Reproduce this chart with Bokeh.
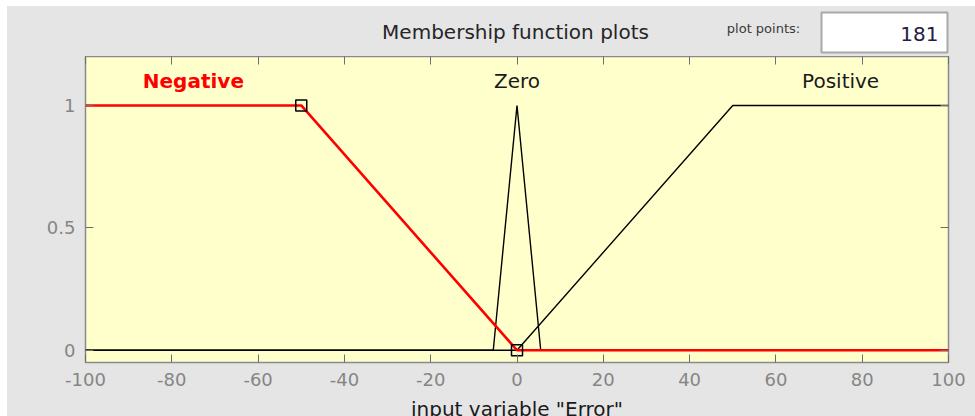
from bokeh.plotting import figure
from bokeh.models import Range1d, FixedTicker, LinearAxis, Spacer
from bokeh.layouts import column, row
from bokeh.core.properties import value
from bokeh.embed import file_html
from bokeh.resources import INLINE

# ---- data ----
mf_names = ["Negative", "Zero", "Positive"]
neg_x = [-100, -50, 0, 100]
neg_y = [1, 1, 0, 0]
zero_x = [-100, -5.5, 0, 5.5, 100]
zero_y = [0, 0, 1, 0, 0]
pos_x = [-100, 0, 50, 100]
pos_y = [0, 0, 1, 1]
handle_x = [-50, 0]
handle_y = [1, 0]
label_x = [-75, 0, 75]
label_y = [1.1, 1.1, 1.1]
x_ticks = [-100, -80, -60, -40, -20, 0, 20, 40, 60, 80, 100]
y_ticks = [0, 0.5, 1]
y_tick_labels = ["0", "0.5", "1"]
plot_points = "181"
title_text = "Membership function plots"
xlabel_text = 'input variable "Error"'

FONT = "DejaVu Sans"
GRAY_BG = "#e5e5e5"
TICK_LBL = "#858585"

# ---------- header strip (title, plot points box) ----------
hdr = figure(width=968, height=50, x_range=Range1d(0, 968), y_range=Range1d(50, 0),
             output_backend="svg", toolbar_location=None,
             x_axis_type=None, y_axis_type=None,
             min_border=0, min_border_left=0, min_border_right=0,
             min_border_top=0, min_border_bottom=0,
             background_fill_color=GRAY_BG, border_fill_color=GRAY_BG,
             outline_line_color=None)
hdr.grid.visible = False
hdr.text(x=[508], y=[25], text=[title_text], text_align="center", text_baseline="middle",
         text_font=value(FONT), text_font_size="20px", text_color="#262626")
hdr.text(x=[756], y=[22], text=["plot points:"], text_align="center", text_baseline="middle",
         text_font=value(FONT), text_font_size="13px", text_color="#3a3a3a")
hdr.quad(left=[814], right=[940], top=[6], bottom=[46], fill_color="white",
         line_color="#a8a8a8", line_width=2)
hdr.text(x=[931], y=[27], text=[plot_points], text_align="right", text_baseline="middle",
         text_font=value(FONT), text_font_size="20px", text_color="#202040")

# ---------- main membership-function plot ----------
p = figure(width=968, height=368,
           x_range=Range1d(-100, 100), y_range=Range1d(-0.05, 1.2),
           output_backend="svg", toolbar_location=None,
           min_border_left=78, min_border_right=27,
           min_border_top=0, min_border_bottom=62,
           background_fill_color="#ffffcc", border_fill_color=GRAY_BG,
           outline_line_color="#8a8a8a", outline_line_width=1.5)
p.grid.visible = False

p.add_layout(LinearAxis(), "above")
p.add_layout(LinearAxis(), "right")

def style(ax, ticks, labels, show_labels):
    ax.ticker = FixedTicker(ticks=ticks)
    ax.major_label_overrides = {t: l for t, l in zip(ticks, labels)}
    ax.axis_line_color = None
    ax.major_tick_in = 8
    ax.major_tick_out = 0
    ax.minor_tick_in = 0
    ax.minor_tick_out = 0
    ax.major_tick_line_color = "#6e6e6e"
    ax.major_tick_line_width = 1
    ax.major_label_text_font = FONT
    if show_labels:
        ax.major_label_text_font_size = "18px"
        ax.major_label_text_color = TICK_LBL
        ax.major_label_standoff = 10
    else:
        ax.major_label_text_font_size = "0px"
        ax.major_label_text_color = None
        ax.major_label_standoff = 0

x_tick_labels = [str(t) for t in x_ticks]
for ax in p.below:
    style(ax, x_ticks, x_tick_labels, True)
    ax.axis_label = xlabel_text
    ax.axis_label_text_font = FONT
    ax.axis_label_text_font_size = "20px"
    ax.axis_label_text_font_style = "normal"
    ax.axis_label_text_color = "#1a1a1a"
    ax.axis_label_standoff = 8
for ax in p.above:
    style(ax, x_ticks, x_tick_labels, False)
for ax in p.left:
    style(ax, y_ticks, y_tick_labels, True)
for ax in p.right:
    style(ax, y_ticks, y_tick_labels, False)

# membership functions
p.line(pos_x, pos_y, line_color="black", line_width=1.4)
p.line(zero_x, zero_y, line_color="black", line_width=1.4)
p.line(neg_x, neg_y, line_color="#ff0000", line_width=2.6)
p.scatter(handle_x, handle_y, marker="square", size=11, fill_color=None,
          line_color="black", line_width=1.5)

# MF names
p.text(x=label_x[:1], y=label_y[:1], text=mf_names[:1], text_align="center",
       text_baseline="middle", text_font=value(FONT), text_font_size="20px",
       text_font_style="bold", text_color="#ff0000")
p.text(x=label_x[1:], y=label_y[1:], text=mf_names[1:], text_align="center",
       text_baseline="middle", text_font=value(FONT), text_font_size="20px",
       text_color="#1a1a1a")

white = {"background-color": "white"}
layout = column(
    Spacer(width=975, height=6, styles=white),
    row(Spacer(width=7, height=50, styles=white), hdr),
    row(Spacer(width=7, height=368, styles=white), p),
    width=975, height=416,
    styles={"overflow": "hidden", "background-color": GRAY_BG},
)
open("out.html", "w").write(file_html(layout, INLINE))
